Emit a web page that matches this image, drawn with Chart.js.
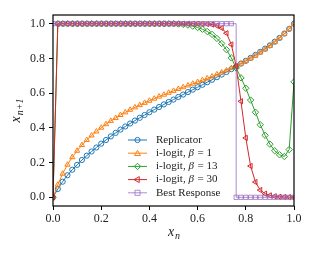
<!DOCTYPE html>
<html>
<head>
<meta charset="utf-8">
<script src="https://cdn.jsdelivr.net/npm/chart.js@4.4.0/dist/chart.umd.min.js"></script>
<style>
html,body{margin:0;padding:0;background:#fff}
#graphe{display:block}
</style>
</head>
<body>
<canvas id="graphe" width="315" height="255"></canvas>
<script>
// x_n grid and x_{n+1}
var xn = [0.00,0.02,0.04,0.06,0.08,0.10,0.12,0.14,0.16,0.18,0.20,0.22,0.24,0.26,0.28,0.30,0.32,0.34,0.36,0.38,0.40,0.42,0.44,0.46,0.48,0.50,0.52,0.54,0.56,0.58,0.60,0.62,0.64,0.66,0.68,0.70,0.72,0.74,0.76,0.78,0.80,0.82,0.84,0.86,0.88,0.90,0.92,0.94,0.96,0.98,1.00]
var replicator = [0,0.048,0.090,0.127,0.159,0.187,0.215,0.240,0.264,0.287,0.309,0.330,0.351,0.371,0.390,0.408,0.425,0.442,0.458,0.474,0.490,0.505,0.520,0.535,0.549,0.563,0.578,0.592,0.606,0.620,0.634,0.648,0.663,0.677,0.692,0.707,0.722,0.738,0.754,0.770,0.786,0.803,0.820,0.838,0.856,0.875,0.896,0.918,0.943,0.970,1.000]
var ilogit1 = [0,0.073,0.136,0.188,0.231,0.268,0.301,0.330,0.356,0.379,0.401,0.421,0.440,0.457,0.474,0.489,0.504,0.518,0.531,0.544,0.556,0.568,0.580,0.591,0.602,0.613,0.624,0.634,0.644,0.654,0.664,0.675,0.685,0.696,0.708,0.719,0.731,0.744,0.757,0.770,0.785,0.800,0.816,0.834,0.852,0.872,0.894,0.917,0.942,0.970,1.000]
var ilogit13 = [0,1,1,1,1,1,1,1,1,1,1,1,1,1,1,1,1,1,1,1,1,1,1,1,1,1,0.998,0.996,0.992,0.986,0.978,0.968,0.955,0.938,0.915,0.886,0.850,0.803,0.745,0.688,0.628,0.560,0.490,0.418,0.357,0.306,0.268,0.245,0.235,0.275,0.665]
var ilogit30 = [0,1,1,1,1,1,1,1,1,1,1,1,1,1,1,1,1,1,1,1,1,1,1,1,1,1,1,1,1,1,1,0.999,0.998,0.995,0.988,0.975,0.945,0.880,0.755,0.553,0.342,0.180,0.088,0.042,0.021,0.011,0.006,0.003,0.002,0.001,0]
var bestResp = [1,1,1,1,1,1,1,1,1,1,1,1,1,1,1,1,1,1,1,1,1,1,1,1,1,1,1,1,1,1,1,1,1,1,1,1,1,1,0,0,0,0,0,0,0,0,0,0,0,0,0]
var graduations = [0,0.2,0.4,0.6,0.8,1.0]
var noms = ["Replicator","i-logit, ","i-logit, ","i-logit, ","Best Response"]
var betas = [null,"1","13","30",null]

var couleurs = ["#1f77b4","#ff7f0e","#2ca02c","#d62728","rgba(148,103,189,0.75)"]
var formes = ["circle","triangle","rectRot","triangle","rect"]
var rotations = [0,0,0,-90,0]
var rayons = [2.6,3.0,3.2,3.0,3.0]
var police = "'Liberation Serif', 'DejaVu Serif', serif"

function serie(ys,i){
	var pts = []
	for(var k=0;k<xn.length;k++){
		pts.push({x:xn[k],y:ys[k]})
	}
	return {
		data: pts,
		borderColor: couleurs[i],
		backgroundColor: "rgba(0,0,0,0)",
		borderWidth: 1,
		pointStyle: formes[i],
		pointRotation: rotations[i],
		pointRadius: rayons[i],
		pointBorderWidth: 1,
		pointBorderColor: couleurs[i],
		pointBackgroundColor: "rgba(255,255,255,0)",
		tension: 0,
		stepped: i==4 ? "before" : false,
		order: 4-i
	}
}

function marque(ctx,forme,rot,r,x,y){
	ctx.beginPath()
	if(forme=="circle"){
		ctx.arc(x,y,r,0,2*Math.PI)
	}else if(forme=="rect"){
		var s = r*0.85
		ctx.rect(x-s,y-s,2*s,2*s)
	}else if(forme=="rectRot"){
		ctx.moveTo(x,y-r);ctx.lineTo(x+r,y);ctx.lineTo(x,y+r);ctx.lineTo(x-r,y);ctx.closePath()
	}else{
		var a = rot*Math.PI/180
		for(var j=0;j<3;j++){
			var t = a - Math.PI/2 + j*2*Math.PI/3
			var px = x + r*1.15*Math.cos(t), py = y + r*1.15*Math.sin(t) + (rot==0 ? r*0.2 : 0)
			if(j==0) ctx.moveTo(px,py); else ctx.lineTo(px,py)
		}
		ctx.closePath()
	}
	ctx.stroke()
}

var decor = {
	id: "decor",
	afterDatasetsDraw: function(chart){
		var ctx = chart.ctx, ca = chart.chartArea
		ctx.save()
		ctx.strokeStyle = "#000"
		ctx.lineWidth = 1.2
		ctx.strokeRect(ca.left, ca.top, ca.right-ca.left, ca.bottom-ca.top)
		ctx.restore()
	},
	afterDraw: function(chart){
		var ctx = chart.ctx
		ctx.save()
		// legend
		for(var i=0;i<5;i++){
			var y = 140 + 13.2*i
			ctx.strokeStyle = couleurs[i]
			ctx.lineWidth = 1
			ctx.beginPath();ctx.moveTo(128,y);ctx.lineTo(147,y);ctx.stroke()
			marque(ctx,formes[i],rotations[i],rayons[i],137.5,y)
			ctx.fillStyle = "#222"
			ctx.textBaseline = "middle"
			ctx.textAlign = "left"
			ctx.font = "11px " + police
			var x = 156
			ctx.fillText(noms[i],x,y)
			if(betas[i]){
				x += ctx.measureText(noms[i]).width
				ctx.font = "italic 11px " + police
				ctx.fillText("β",x,y)
				x += ctx.measureText("β").width
				ctx.font = "11px " + police
				ctx.fillText(" = " + betas[i],x+1,y)
			}
		}
		// axis titles
		ctx.fillStyle = "#222"
		ctx.textBaseline = "alphabetic"
		ctx.textAlign = "left"
		ctx.font = "italic 14px " + police
		ctx.fillText("x",168,236)
		ctx.font = "italic 10px " + police
		ctx.fillText("n",175,239)
		ctx.translate(20,110.5)
		ctx.rotate(-Math.PI/2)
		ctx.font = "italic 14px " + police
		var w1 = ctx.measureText("x").width
		ctx.font = "italic 10px " + police
		var w2 = ctx.measureText("n+1").width
		var x0 = -(w1+w2+1)/2
		ctx.font = "italic 14px " + police
		ctx.fillText("x",x0,0)
		ctx.font = "italic 10px " + police
		ctx.fillText("n+1",x0+w1+1,3)
		ctx.restore()
	}
}

function axe(lim){
	return {
		type: "linear",
		min: lim[0],
		max: lim[1],
		afterBuildTicks: function(s){ s.ticks = graduations.map(function(v){ return {value:v} }) },
		ticks: {
			callback: function(v){ return v.toFixed(1) },
			font: {family: police, size: 12},
			color: "#222",
			padding: 3,
			maxRotation: 0,
			autoSkip: false
		},
		grid: {drawOnChartArea: false, tickLength: 4, color: "#000", tickWidth: 1},
		border: {display: false}
	}
}

var sx = axe([0,1])
sx.afterFit = function(s){ s.height = 49 }
sx.ticks.padding = 2
var sy = axe([-0.05,1.05])
sy.afterFit = function(s){ s.width = 53 }
sy.ticks.padding = 4

new Chart(document.getElementById("graphe"), {
	type: "line",
	data: {datasets: [serie(replicator,0),serie(ilogit1,1),serie(ilogit13,2),serie(ilogit30,3),serie(bestResp,4)]},
	options: {
		responsive: false,
		animation: false,
		layout: {padding: {left:0, top:15, right:21, bottom:0}},
		plugins: {legend: {display:false}, tooltip: {enabled:false}},
		scales: {x: sx, y: sy}
	},
	plugins: [decor]
})
</script>
</body>
</html>
